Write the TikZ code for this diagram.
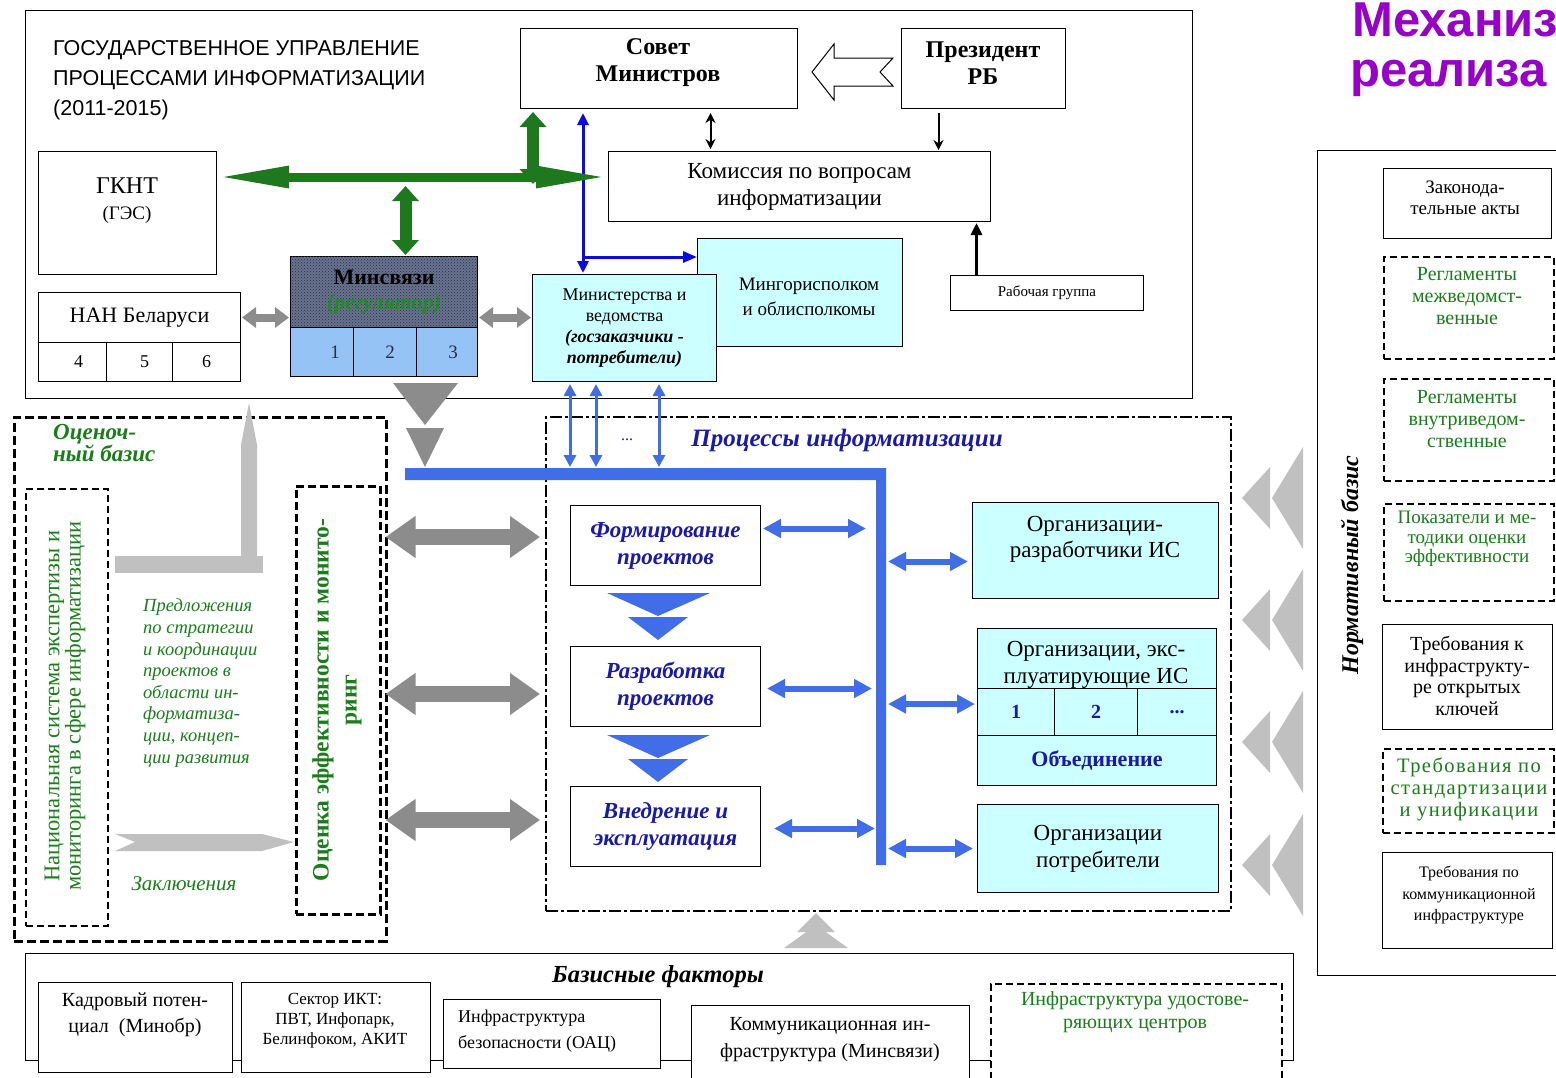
\documentclass[tikz,border=0pt]{standalone}
\usepackage{fontspec}
\setmainfont{Liberation Serif}
\newfontfamily\sansf{Liberation Sans}
\newfontfamily\spaced[LetterSpace=7]{Liberation Serif}
\usetikzlibrary{arrows.meta,patterns,calc}
\newcommand{\myfs}[2]{\fontsize{#1}{#2}\selectfont}
\definecolor{grn}{RGB}{25,125,25}
\definecolor{grn2}{RGB}{30,140,30}
\definecolor{arrgrn}{RGB}{30,120,30}
\definecolor{pblue}{RGB}{25,25,170}
\definecolor{barblue}{RGB}{65,110,230}
\definecolor{lineblue}{RGB}{10,10,225}
\definecolor{cyanfill}{RGB}{204,255,255}
\definecolor{cellblue}{RGB}{150,195,245}
\definecolor{slate}{RGB}{105,115,140}
\definecolor{navy}{RGB}{35,45,80}
\definecolor{dgray}{RGB}{140,140,140}
\definecolor{lgray}{RGB}{192,192,192}
\definecolor{purp}{RGB}{150,0,200}
\begin{document}
\begin{tikzpicture}[x=1pt,y=-1pt,
 box/.style={draw=black,line width=1pt,fill=white,inner sep=0pt,anchor=north west,align=center},
 cbox/.style={box,fill=cyanfill},
 dbox/.style={box,line width=2pt,dash pattern=on 7pt off 4pt},
 pbox/.style={box,font=\bfseries\itshape\myfs{23}{27},text=pblue},
 lbl/.style={inner sep=0pt,align=center},
 blk/.style={draw=black,line width=2pt},
 garr/.style={draw=arrgrn,line width=9pt,{Triangle[length=72pt,width=20pt]}-{Triangle[length=72pt,width=20pt]}},
 gv/.style={draw=arrgrn,line width=12pt,{Triangle[length=15pt,width=26pt]}-{Triangle[length=15pt,width=26pt]}},
 gsm/.style={draw=dgray,line width=8pt,{Triangle[length=14pt,width=20pt]}-{Triangle[length=14pt,width=20pt]},shorten <=1pt,shorten >=1pt},
 gbig/.style={draw=dgray,line width=16pt,{Triangle[length=30pt,width=40pt]}-{Triangle[length=30pt,width=40pt]},shorten <=4pt,shorten >=5pt},
 bda/.style={draw=barblue,line width=6pt,{Triangle[length=18pt,width=18pt]}-{Triangle[length=18pt,width=18pt]}},
 tb/.style={draw=barblue,line width=3pt,{Triangle[length=12pt,width=12pt]}-{Triangle[length=12pt,width=12pt]},shorten <=1pt,shorten >=2pt}
]
\useasboundingbox (0,0) rectangle (1556,1077);

% purple title
\node[anchor=base west,inner sep=0pt,font=\sansf\bfseries\myfs{49}{50},text=purp] (mech1) at (1352,36) {Механиз};
\node[anchor=base west,inner sep=0pt,font=\sansf\bfseries\myfs{49}{50},text=purp] (mech2) at (1350,86) {реализа};

% ===== top frame =====
\node[box,fill=none,minimum width=1167pt,minimum height=388pt] (topfr) at (25,10) {};
\node[lbl,anchor=west,align=left,font=\sansf\myfs{21.5}{30}] (head) at (53,80) {ГОСУДАРСТВЕННОЕ УПРАВЛЕНИЕ\\ПРОЦЕССАМИ ИНФОРМАТИЗАЦИИ\\(2011-2015)};

\node[box,minimum width=277pt,minimum height=80pt] (sovet) at (520,28) {};
\node[lbl,font=\bfseries\myfs{24}{27}] (sovett) at (658,63) {Совет\\Министров};
\node[box,minimum width=164pt,minimum height=80pt] (prez) at (901,28) {};
\node[lbl,font=\bfseries\myfs{24}{27}] (prezt) at (983,63) {Президент\\РБ};
\node[box,minimum width=382pt,minimum height=70pt,font=\myfs{23}{27}] (kom) at (608,151) {Комиссия по вопросам\\информатизации};
\node[box,minimum width=193pt,minimum height=35pt,font=\myfs{15}{17}] (rg) at (950,275) {Рабочая группа};

\node[box,minimum width=178pt,minimum height=123pt] (gknt) at (38,151) {};
\node[lbl,font=\myfs{24}{26}] (gkntt) at (127,201) {ГКНТ\\{\fontsize{19}{26}\selectfont (ГЭС)}};

\node[box,minimum width=202pt,minimum height=50pt,font=\myfs{22}{24}] (nan) at (38,292) {НАН Беларуси};
\node[box,minimum width=68pt,minimum height=39pt,font=\myfs{18}{20}] (nan4) at (38,342) {\hspace*{12pt}4};
\node[box,minimum width=66pt,minimum height=39pt,font=\myfs{18}{20}] (nan5) at (106,342) {\hspace*{10pt}5};
\node[box,minimum width=68pt,minimum height=39pt,font=\myfs{18}{20}] (nan6) at (172,342) {6};

\node[box,fill=slate,postaction={pattern=crosshatch dots,pattern color=navy},minimum width=187pt,minimum height=71pt,font=\bfseries\myfs{22}{25}] (minsv) at (290,256) {Минсвязи\\\textcolor{grn2}{\textit{(регулятор)}}};
\node[box,fill=cellblue,minimum width=63pt,minimum height=49pt,font=\myfs{19}{20},text=navy] (ms1) at (290,327) {\hspace*{26pt}1};
\node[box,fill=cellblue,minimum width=63pt,minimum height=49pt,font=\myfs{19}{20},text=navy] (ms2) at (353,327) {\hspace*{10pt}2};
\node[box,fill=cellblue,minimum width=61pt,minimum height=49pt,font=\myfs{19}{20},text=navy] (ms3) at (416,327) {\hspace*{12pt}3};

\node[cbox,minimum width=205pt,minimum height=108pt] (mingor) at (697,238) {};
\node[lbl,font=\myfs{19}{25}] (mingort) at (809,297) {Мингорисполком\\и облисполкомы};
\node[cbox,minimum width=184pt,minimum height=107pt,font=\myfs{18}{21}] (min) at (532,274) {Министерства и\\ведомства\\\textbf{\textit{(госзаказчики -}}\\\textbf{\textit{потребители)}}};

% top connectors
\draw[line width=1pt,fill=white] (812,72) -- (834,44) -- (834,58) -- (893,58) -- (880,72) -- (893,86) -- (834,86) -- (834,100) -- cycle;
\coordinate (sk) at ([xshift=51.5pt]sovet.south);
\draw[blk,{Stealth[length=10pt,width=10pt]}-{Stealth[length=10pt,width=10pt]},shorten <=4pt,shorten >=2pt] (sk) -- (sk |- kom.north);
\coordinate (pk) at ([xshift=-45pt]prez.south);
\draw[blk,-{Stealth[length=10pt,width=10pt]},shorten <=4pt,shorten >=1pt] (pk) -- (pk |- kom.north);
\coordinate (rk) at ([xshift=-70.5pt]rg.north);
\draw[line width=3pt,-{Triangle[length=12pt,width=11pt]},shorten >=1pt] (rk) -- (rk |- kom.south);

\coordinate (bl) at ([xshift=63pt]sovet.south west);
\draw[lineblue,line width=3pt,{Triangle[length=12pt,width=11pt]}-{Triangle[length=12pt,width=11pt]},shorten <=4pt,shorten >=1pt] (bl) -- (bl |- min.north);
\coordinate (bb) at ([yshift=-19pt]mingor.north west);
\draw[lineblue,line width=3pt,-{Triangle[length=14pt,width=11pt]}] (bl |- bb) -- (bb);

\coordinate (gl) at ([yshift=-26pt]gknt.north east);
\coordinate (gr) at ([yshift=-26pt]kom.north west);
\draw[garr] (gl) -- (gr);
\coordinate (gs) at ([xshift=13pt]sovet.south west);
\coordinate (gb1) at ([yshift=-7pt]gl);
\draw[gv,shorten <=3pt] (gs) -- (gs |- gb1);
\coordinate (gm) at ([xshift=21.5pt]minsv.north);
\coordinate (gb2) at ([yshift=-9pt]gl);
\draw[gv,shorten >=1pt] (gm |- gb2) -- (gm);

\draw[gsm] (nan.east) -- (minsv.west |- nan.east);
\draw[gsm] (minsv.east |- nan.east) -- (min.west |- nan.east);

\fill[dgray] (393,383) -- (458,383) -- (425,425) -- cycle;
\fill[dgray] (406,428) -- (444,428) -- (425,467) -- cycle;

% ===== processes =====
\node[box,fill=none,line width=2pt,dash pattern=on 12pt off 3pt on 3pt off 3pt,minimum width=685pt,minimum height=494pt] (proc) at (545,416) {};
\node[lbl,font=\bfseries\itshape\myfs{25}{26},text=pblue] (proct) at (847,440) {Процессы информатизации};
\node[lbl,font=\myfs{16}{16},text=pblue] (dots) at (627,440) {...};

\fill[barblue] (405,468) -- (886,468) -- (886,865) -- (876,865) -- (876,480) -- (405,480) -- cycle;
\coordinate (barTop) at (405,468);
\coordinate (barL) at (876,480);
\coordinate (barR) at (886,480);

\foreach \dx [count=\i] in {38,64,127} {
  \coordinate (mu\i) at ([xshift=\dx pt]min.south west);
  \draw[tb] (mu\i |- barTop) -- (mu\i);
}

\node[pbox,minimum width=190pt,minimum height=80pt] (form) at (570,505) {Формирование\\проектов};
\node[pbox,minimum width=190pt,minimum height=80pt] (razr) at (570,646) {Разработка\\проектов};
\node[pbox,minimum width=190pt,minimum height=80pt] (vned) at (570,786) {Внедрение и\\эксплуатация};

\fill[barblue] (607,593) -- (710,593) -- (658,616) -- cycle;
\fill[barblue] (628,617) -- (688,617) -- (658,640) -- cycle;
\fill[barblue] (607,735) -- (710,735) -- (658,758) -- cycle;
\fill[barblue] (628,759) -- (688,759) -- (658,782) -- cycle;

\node[cbox,minimum width=246pt,minimum height=96pt] (org1) at (972,502) {};
\node[lbl,font=\myfs{23}{26}] (org1t) at (1095,539) {Организации-\\разработчики ИС};
\node[cbox,minimum width=239pt,minimum height=60pt] (org2) at (977,628) {};
\node[lbl,font=\myfs{23}{27}] (org2t) at (1096,665) {Организации, экс-\\плуатирующие ИС};
\node[cbox,minimum width=77pt,minimum height=47pt,font=\bfseries\myfs{20}{22},text=pblue] (oc1) at (977,688) {1};
\node[cbox,minimum width=83pt,minimum height=47pt,font=\bfseries\myfs{20}{22},text=pblue] (oc2) at (1054,688) {2};
\node[cbox,minimum width=79pt,minimum height=47pt,font=\bfseries\myfs{20}{22},text=pblue] (oc3) at (1137,688) {...};
\node[cbox,minimum width=239pt,minimum height=50pt,font=\bfseries\myfs{22}{24},text=pblue] (org2b) at (977,735) {Объединение};
\node[cbox,minimum width=241pt,minimum height=88pt,font=\myfs{23}{27}] (org3) at (977,804) {Организации\\потребители};

\coordinate (pa1) at ([yshift=17pt]form.east);
\draw[bda,shorten <=2pt,shorten >=10pt] (pa1) -- (barL |- pa1);
\coordinate (pa2) at ([yshift=-2pt]razr.east);
\draw[bda,shorten <=6pt,shorten >=4pt] (pa2) -- (barL |- pa2);
\coordinate (pa3) at ([yshift=-2pt]vned.east);
\draw[bda,shorten <=13pt,shorten >=1pt] (pa3) -- (barL |- pa3);
\coordinate (pb1) at ([yshift=-11pt]org1.west);
\draw[bda,shorten <=2pt,shorten >=4pt] (barR |- pb1) -- (pb1);
\coordinate (pb2) at ([yshift=-15pt]org2.south west);
\draw[bda,shorten <=2pt,shorten >=2pt] (barR |- pb2) -- (pb2);
\draw[bda,shorten <=2pt,shorten >=4pt] (barR |- org3.west) -- (org3.west);

% ===== left: evaluation basis =====
\node[box,fill=none,line width=2.5pt,dash pattern=on 9pt off 4pt,minimum width=372pt,minimum height=524pt] (ocb) at (13,416) {};
\node[lbl,anchor=west,align=left,font=\bfseries\itshape\myfs{23}{19},text=grn] (ocbt) at (53,443) {Оценоч-\\ный базис};
\node[box,fill=none,line width=2pt,dash pattern=on 7pt off 4pt,minimum width=82pt,minimum height=437pt] (nac) at (25,488) {};
\node[lbl,rotate=90,font=\myfs{22.5}{19},text=grn] (nact) at (65,706) {Национальная система экспертизы и\\мониторинга в сфере информатизации};
\node[box,fill=none,line width=2.5pt,dash pattern=on 8pt off 4pt,minimum width=84pt,minimum height=428pt] (ocen) at (295,485) {};
\node[lbl,rotate=90,font=\bfseries\myfs{23.5}{28},text=grn] (ocent) at (337,700) {Оценка эффективности и монито-\\ринг};
\node[lbl,anchor=west,align=left,font=\itshape\myfs{18.5}{21.6},text=grn] (predl) at (143,683) {Предложения\\по стратегии\\и координации\\проектов в\\области ин-\\форматиза-\\ции, концеп-\\ции развития};
\node[lbl,font=\itshape\myfs{21}{22},text=grn] (zakl) at (184,884) {Заключения};

\fill[lgray] (115,556) rectangle (263,573);
\fill[lgray] (241,556) -- (241,445) -- (249,403) -- (257,445) -- (257,556) -- cycle;
\fill[lgray] (115,834) -- (262,834) -- (294,842) -- (262,851) -- (115,851) -- (135,842) -- cycle;

\foreach \yy [count=\i] in {537,694,820} {
  \coordinate (gy\i) at (0,\yy);
  \draw[gbig] (ocen.east |- gy\i) -- (proc.west |- gy\i);
}

% ===== bottom: basic factors =====
\fill[lgray] (784,948) -- (848,948) -- (816,925) -- cycle;
\fill[lgray] (797,932) -- (835,932) -- (816,913) -- cycle;

\node[box,fill=none,minimum width=1268pt,minimum height=107pt] (baz) at (25,953) {};
\node[lbl,font=\bfseries\itshape\myfs{24.5}{25}] (bazt) at (658,977) {Базисные факторы};
\node[box,minimum width=194pt,minimum height=90pt] (kadr) at (38,982) {};
\node[lbl,font=\myfs{20}{26}] (kadrt) at (135,1015) {Кадровый потен-\\циал\ \ (Минобр)};
\node[box,minimum width=189pt,minimum height=90pt] (sekt) at (241,982) {};
\node[lbl,font=\myfs{17}{20}] (sektt) at (335,1021) {Сектор ИКТ:\\ПВТ, Инфопарк,\\Белинфоком, АКИТ};
\node[box,minimum width=217pt,minimum height=69pt] (bez) at (443,999) {};
\node[lbl,anchor=west,align=left,font=\myfs{18}{26}] (bezt) at (458,1031) {Инфраструктура\\безопасности (ОАЦ)};
\node[box,minimum width=278pt,minimum height=85pt] (komm) at (691,1005) {};
\node[lbl,font=\myfs{20}{27}] (kommt) at (830,1040) {Коммуникационная ин-\\фраструктура (Минсвязи)};
\node[dbox,minimum width=291pt,minimum height=100pt] (udost) at (990,983) {};
\node[lbl,font=\myfs{20}{23},text=grn] (udostt) at (1135,1012) {Инфраструктура удостове-\\ряющих центров};

% ===== right: normative basis =====
\foreach \c in {498,620,742,865} {
  \fill[lgray] (1242,\c) -- (1270,\c-31) -- (1270,\c+31) -- cycle;
  \fill[lgray] (1272,\c) -- (1303,\c-51) -- (1303,\c+51) -- cycle;
}
\node[box,fill=none,minimum width=260pt,minimum height=825pt] (norm) at (1317,150) {};
\node[lbl,rotate=90,font=\bfseries\itshape\myfs{24}{26}] (normt) at (1352,565) {Нормативный базис};

\node[box,minimum width=168pt,minimum height=70pt] (zak) at (1383,168) {};
\node[lbl,font=\myfs{19}{21}] (zakt) at (1465,198) {Законода-\\тельные акты};
\node[dbox,minimum width=170pt,minimum height=102pt] (regm) at (1383,256) {};
\node[lbl,font=\myfs{20}{22},text=grn] (regmt) at (1467,296) {Регламенты\\межведомст-\\венные};
\node[dbox,minimum width=170pt,minimum height=102pt] (regv) at (1383,378) {};
\node[lbl,font=\myfs{20}{22},text=grn] (regvt) at (1467,419) {Регламенты\\внутриведом-\\ственные};
\node[dbox,minimum width=170pt,minimum height=97pt] (pok) at (1383,503) {};
\node[lbl,font=\myfs{19}{19.5},text=grn] (pokt) at (1467,539) {Показатели и ме-\\тодики оценки\\эффективности};
\node[box,minimum width=170pt,minimum height=105pt] (treb1) at (1382,624) {};
\node[lbl,font=\myfs{20}{21.5}] (treb1t) at (1467,676) {Требования к\\инфраструкту-\\ре открытых\\ключей};
\node[dbox,minimum width=171pt,minimum height=84pt] (treb2) at (1382,748) {};
\node[lbl,font=\spaced\myfs{20.5}{22},text=grn] (treb2t) at (1469,789) {Требования по\\стандартизации\\и унификации};
\node[box,minimum width=170pt,minimum height=96pt] (treb3) at (1382,852) {};
\node[lbl,font=\myfs{16}{21.5}] (treb3t) at (1469,895) {Требования по\\коммуникационной\\инфраструктуре};
\end{tikzpicture}
\end{document}
